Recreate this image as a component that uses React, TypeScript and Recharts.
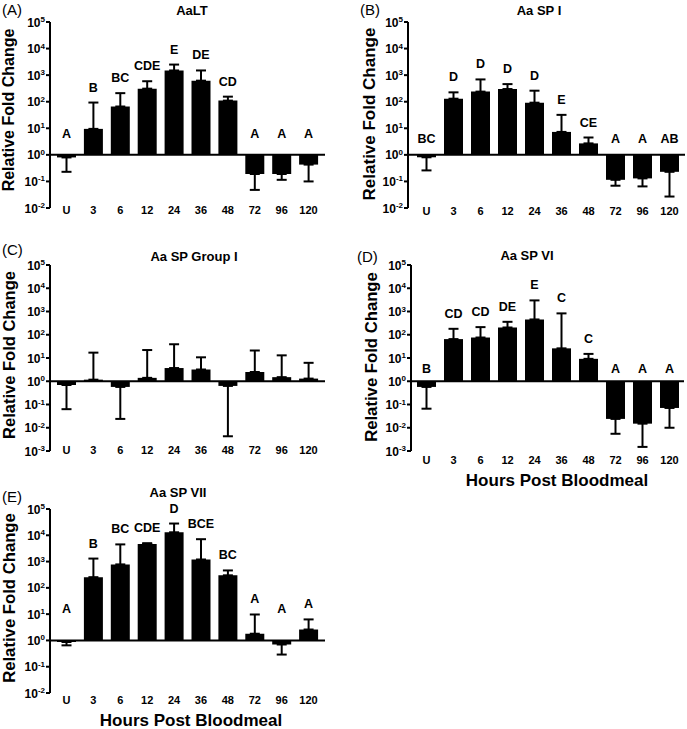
import React from 'react';
import {
  ComposedChart,
  Bar,
  Line,
  XAxis,
  YAxis,
  ErrorBar,
  ReferenceLine,
  LabelList,
} from 'recharts';

const FONT = '"Liberation Sans", Arial, Helvetica, sans-serif';

// Categories (hours post bloodmeal)
const categories = ['U', '3', '6', '12', '24', '36', '48', '72', '96', '120'];

// (A) AaLT
const aaltMean = [0.8, 9.5, 66, 310, 1500, 620, 110, 0.19, 0.19, 0.43];
const aaltErrEnd = [0.23, 93, 210, 590, 2500, 1500, 155, 0.048, 0.115, 0.1];
const aaltLetters = ['A', 'B', 'BC', 'CDE', 'E', 'DE', 'CD', 'A', 'A', 'A'];

// (B) Aa SP I
const sp1Mean = [0.81, 130, 240, 300, 92, 7.3, 2.7, 0.115, 0.13, 0.23];
const sp1ErrEnd = [0.26, 225, 690, 460, 260, 32, 4.5, 0.069, 0.065, 0.027];
const sp1Letters = ['BC', 'D', 'D', 'D', 'D', 'E', 'CE', 'A', 'A', 'AB'];

// (C) Aa SP Group I
const spG1Mean = [0.69, 1.17, 0.57, 1.4, 3.7, 3.2, 0.63, 2.5, 1.5, 1.3];
const spG1ErrEnd = [0.063, 17, 0.024, 22, 39, 10.7, 0.0043, 21, 13, 6.2];
const spG1Letters: string[] = [];

// (D) Aa SP VI
const sp6Mean = [0.57, 65, 76, 205, 455, 26, 9.2, 0.024, 0.015, 0.071];
const sp6ErrEnd = [0.066, 180, 213, 360, 3000, 830, 15, 0.0055, 0.0015, 0.01];
const sp6Letters = ['B', 'CD', 'CD', 'DE', 'E', 'C', 'C', 'A', 'A', 'A'];

// (E) Aa SP VII
const sp7Mean = [0.87, 255, 780, 4700, 13000, 1200, 300, 1.8, 0.7, 2.6];
const sp7ErrEnd = [0.65, 1300, 4500, 5000, 28000, 7100, 460, 9.7, 0.29, 6.3];
const sp7Letters = ['A', 'B', 'BC', 'CDE', 'D', 'BCE', 'BC', 'A', 'A', 'A'];

// y tick values
const ticksM2 = [1e-2, 1e-1, 1, 1e1, 1e2, 1e3, 1e4, 1e5];
const ticksM3 = [1e-3, 1e-2, 1e-1, 1, 1e1, 1e2, 1e3, 1e4, 1e5];

function buildRows(mean: number[], errEnd: number[], letters: string[], floor: number) {
  return categories.map((c, i) => {
    const m = mean[i];
    const e = errEnd[i];
    const up = m >= 1;
    return {
      cat: c,
      range: [1, m],
      err: up ? [0, e - m] : [m - e, 0],
      anchor: up ? Math.max(e, floor) : floor,
      letter: letters[i] || '',
    };
  });
}

const YTick = (props: any) => {
  const { x, y, payload } = props;
  const exp = Math.round(Math.log10(payload.value));
  return (
    <text
      x={x}
      y={y + 4.5}
      textAnchor="end"
      fontFamily={FONT}
      fontWeight="bold"
      fontSize={12}
      fill="#000"
    >
      10
      <tspan dy={-4.5} fontSize={8}>
        {exp}
      </tspan>
    </text>
  );
};

const makeXTick = (dy: number) => (props: any) => {
  const { x, y, payload } = props;
  return (
    <text
      x={x}
      y={y + dy}
      textAnchor="middle"
      fontFamily={FONT}
      fontWeight="bold"
      fontSize={11}
      fill="#000"
    >
      {payload.value}
    </text>
  );
};

const renderLetter = (props: any) => {
  const { x, y, value } = props;
  if (!value) return null;
  return (
    <text
      x={x}
      y={y - 11}
      textAnchor="middle"
      fontFamily={FONT}
      fontWeight="bold"
      fontSize={12.5}
      fill="#000"
    >
      {value}
    </text>
  );
};

type PanelProps = {
  left: number;
  top: number;
  width: number;
  height: number;
  marginTop: number;
  marginRight: number;
  xAxisHeight: number;
  padL: number;
  padR: number;
  ticks: number[];
  rows: any[];
  tickDy: number;
  showLetters: boolean;
};

const Panel = (p: PanelProps) => {
  const domain = [p.ticks[0], p.ticks[p.ticks.length - 1]];
  return (
    <div style={{ position: 'absolute', left: p.left, top: p.top }}>
      <ComposedChart
        width={p.width}
        height={p.height}
        data={p.rows}
        margin={{ top: p.marginTop, right: p.marginRight, bottom: 0, left: 0 }}
      >
        <XAxis
          dataKey="cat"
          type="category"
          axisLine={false}
          tickLine={false}
          tickSize={0}
          tickMargin={0}
          height={p.xAxisHeight}
          padding={{ left: p.padL, right: p.padR }}
          interval={0}
          tick={makeXTick(p.tickDy)}
        />
        <YAxis
          type="number"
          scale="log"
          domain={domain}
          ticks={p.ticks}
          allowDataOverflow
          interval={0}
          width={50}
          tickSize={4}
          tickMargin={1}
          axisLine={{ stroke: '#000', strokeWidth: 2 }}
          tickLine={{ stroke: '#000', strokeWidth: 2 }}
          tick={<YTick />}
        />
        <Bar dataKey="range" fill="#000" barSize={19} isAnimationActive={false}>
          <ErrorBar
            dataKey="err"
            direction="y"
            width={5}
            stroke="#000"
            strokeWidth={2}
            isAnimationActive={false}
          />
        </Bar>
        <ReferenceLine y={1} stroke="#000" strokeWidth={2} ifOverflow="visible" />
        {p.showLetters && (
          <Line
            dataKey="anchor"
            stroke="none"
            dot={false}
            activeDot={false}
            isAnimationActive={false}
          >
            <LabelList dataKey="letter" content={renderLetter} />
          </Line>
        )}
      </ComposedChart>
    </div>
  );
};

const T = (props: any) => <text fontFamily={FONT} fill="#000" {...props} />;

const YLabel = ({ cx, cy, size }: { cx: number; cy: number; size: number }) => (
  <T
    fontSize={size}
    fontWeight="bold"
    textAnchor="middle"
    transform="rotate(-90)"
    x={-cy}
    y={cx}
  >
    Relative Fold Change
  </T>
);

export default function App() {
  const rowsA = buildRows(aaltMean, aaltErrEnd, aaltLetters, 1.7);
  const rowsB = buildRows(sp1Mean, sp1ErrEnd, sp1Letters, 1.05);
  const rowsC = buildRows(spG1Mean, spG1ErrEnd, spG1Letters, 1);
  const rowsD = buildRows(sp6Mean, sp6ErrEnd, sp6Letters, 0.75);
  const rowsE = buildRows(sp7Mean, sp7ErrEnd, sp7Letters, 4.4);

  return (
    <div
      style={{
        position: 'absolute',
        left: 0,
        top: 0,
        width: 687,
        height: 729,
        background: '#fff',
        overflow: 'hidden',
      }}
    >
      <Panel
        left={0} top={0} width={340} height={240}
        marginTop={22} marginRight={15} xAxisHeight={32}
        padL={3} padR={3} ticks={ticksM2} rows={rowsA} tickDy={6} showLetters
      />
      <Panel
        left={358} top={0} width={329} height={240}
        marginTop={22} marginRight={2} xAxisHeight={32}
        padL={5} padR={2} ticks={ticksM2} rows={rowsB} tickDy={7} showLetters
      />
      <Panel
        left={0} top={240} width={340} height={240}
        marginTop={25} marginRight={15} xAxisHeight={29}
        padL={3} padR={3} ticks={ticksM3} rows={rowsC} tickDy={3} showLetters={false}
      />
      <Panel
        left={361} top={240} width={326} height={240}
        marginTop={25} marginRight={3} xAxisHeight={29}
        padL={2} padR={1} ticks={ticksM3} rows={rowsD} tickDy={13} showLetters
      />
      <Panel
        left={0} top={480} width={340} height={249}
        marginTop={29} marginRight={15} xAxisHeight={36}
        padL={3} padR={3} ticks={ticksM2} rows={rowsE} tickDy={11} showLetters
      />
      <svg
        width={687}
        height={729}
        style={{ position: 'absolute', left: 0, top: 0, pointerEvents: 'none' }}
      >
        <T x={2} y={15} fontSize={15}>(A)</T>
        <T x={360} y={15} fontSize={15}>(B)</T>
        <T x={2} y={255} fontSize={15}>(C)</T>
        <T x={357} y={262} fontSize={15}>(D)</T>
        <T x={2} y={502} fontSize={15}>(E)</T>

        <T x={192} y={15} fontSize={13} fontWeight="bold" textAnchor="middle">AaLT</T>
        <T x={539} y={15} fontSize={13} fontWeight="bold" textAnchor="middle">Aa SP I</T>
        <T x={194} y={261} fontSize={13} fontWeight="bold" textAnchor="middle">Aa SP Group I</T>
        <T x={527} y={260} fontSize={13} fontWeight="bold" textAnchor="middle">Aa SP VI</T>
        <T x={178} y={497} fontSize={13} fontWeight="bold" textAnchor="middle">Aa SP VII</T>

        <YLabel cx={14} cy={110} size={16} />
        <YLabel cx={375} cy={114} size={17} />
        <YLabel cx={15} cy={355} size={16.5} />
        <YLabel cx={377} cy={357} size={16.7} />
        <YLabel cx={15} cy={598} size={16.7} />

        <T x={557} y={486} fontSize={17} fontWeight="bold" textAnchor="middle">Hours Post Bloodmeal</T>
        <T x={191} y={726} fontSize={17} fontWeight="bold" textAnchor="middle">Hours Post Bloodmeal</T>
      </svg>
    </div>
  );
}
